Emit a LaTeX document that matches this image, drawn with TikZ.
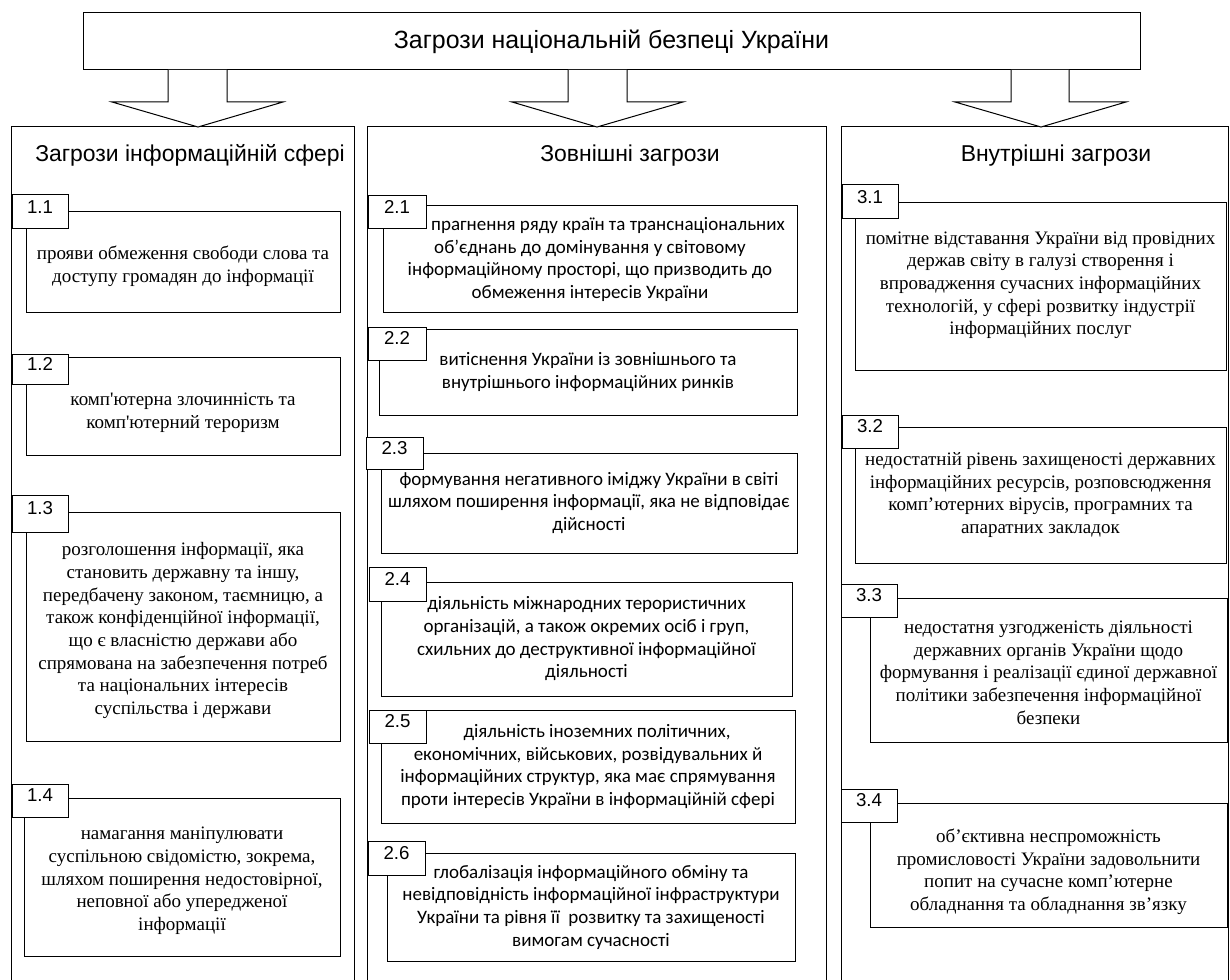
\documentclass[tikz,border=0pt]{standalone}
\usepackage{fontspec}
\setmainfont{Liberation Serif}[Ligatures=TeXOff]
\newfontfamily\arialf{Liberation Sans}[Ligatures=TeXOff]
\newfontfamily\calibf{Carlito}[Ligatures=TeXOff]
\usetikzlibrary{fit}

\begin{document}
\begin{tikzpicture}[x=0.75pt,y=-0.75pt,
  frame/.style={draw=black,line width=0.75pt,inner sep=0pt,fill=white},
  colframe/.style={inner sep=0pt},
  colline/.style={draw=black,line width=0.75pt},
  blockarrow/.style={draw=black,line width=0.75pt,fill=white,line join=miter},
  title/.style={font=\arialf\fontsize{18.7}{22}\selectfont,inner sep=0pt},
  heading/.style={font=\arialf\fontsize{17.2}{20}\selectfont,inner sep=0pt,anchor=base},
  numtext/.style={font=\arialf\fontsize{14}{16}\selectfont,inner sep=0pt},
  serifbody/.style={font=\fontsize{14.25}{17}\selectfont,align=center,inner sep=0pt},
  sansbody/.style={font=\calibf\fontsize{14.25}{17}\selectfont,align=center,inner sep=0pt}]
\useasboundingbox (0,0) rectangle (1230,980);

% top box
\node[frame,fit={(83,13) (1140,70)}] (top) {};
\node[title] (toptxt) at (top.center) {Загрози національній безпеці України};

% three columns (open at the bottom)
\node[colframe,fit={(12,127) (354,982)}] (c1) {};
\node[colframe,fit={(368,127) (826,982)}] (c2) {};
\node[colframe,fit={(842,127) (1228,982)}] (c3) {};
\foreach \c in {c1,c2,c3}
  \draw[colline] (\c.south west) -- (\c.north west) -- (\c.north east) -- (\c.south east);

% block arrows from the top box down to each column
\coordinate (t1) at (198,127);
\coordinate (t2) at (597,127);
\coordinate (t3) at (1041,127);
\draw[blockarrow] (168,70) -- (168,102) -- (112,102) -- (t1) -- (283,102) -- (227,102) -- (227,70);
\draw[blockarrow] (568,70) -- (568,102) -- (512,102) -- (t2) -- (683,102) -- (627,102) -- (627,70);
\draw[blockarrow] (1011,70) -- (1011,102) -- (955,102) -- (t3) -- (1126,102) -- (1069,102) -- (1069,70);

% column headings
\node[heading] (h1) at (190,162) {Загрози інформаційній сфері};
\node[heading] (h2) at (630,162) {Зовнішні загрози};
\node[heading] (h3) at (1056,162) {Внутрішні загрози};

% ---- column 1 ----
\node[frame,fit={(26,212) (340,313)}] (b11) {};
\node[frame,fit={(12,195) (68,229)}] (l11) {};
\node[serifbody] (x11) at ([yshift=-3pt]b11.center) {прояви обмеження свободи слова та\\доступу громадян до інформації};

\node[frame,fit={(26,357) (340,455)}] (b12) {};
\node[frame,fit={(12,354) (68,384)}] (l12) {};
\node[serifbody] (x12) at ([yshift=-5pt]b12.center) {комп'ютерна злочинність та\\комп'ютерний тероризм};

\node[frame,fit={(26,512) (340,741)}] (b13) {};
\node[frame,fit={(12,495) (68,532)}] (l13) {};
\node[serifbody] (x13) at ([yshift=-3pt]b13.center) {розголошення інформації, яка\\становить державну та іншу,\\передбачену законом, таємницю, а\\також конфіденційної інформації,\\що є власністю держави або\\спрямована на забезпечення потреб\\та національних інтересів\\суспільства і держави};

\node[frame,fit={(24,798) (340,956)}] (b14) {};
\node[frame,fit={(12,784) (68,817)}] (l14) {};
\node[serifbody] (x14) at ([yshift=-3pt]b14.center) {намагання маніпулювати\\суспільною свідомістю, зокрема,\\шляхом поширення недостовірної,\\неповної або упередженої\\інформації};

% ---- column 2 ----
\node[frame,fit={(383,206) (797,313)}] (b21) {};
\node[frame,fit={(368,196) (426,229)}] (l21) {};
\node[sansbody] (x21) at (b21.center) {\hspace*{27pt}прагнення ряду країн та транснаціональних\\об’єднань до домінування у світовому\\інформаційному просторі, що призводить до\\обмеження інтересів України};

\node[frame,fit={(379,329) (797,415)}] (b22) {};
\node[frame,fit={(368,327) (426,360)}] (l22) {};
\node[sansbody] (x22) at (b22.center) {витіснення України із зовнішнього та\\внутрішнього інформаційних ринків};

\node[frame,fit={(381,453) (797,553)}] (b23) {};
\node[frame,fit={(366,437) (423,469)}] (l23) {};
\node[sansbody] (x23) at (b23.center) {формування негативного іміджу України в світі\\шляхом поширення інформації, яка не відповідає\\дійсності};

\node[frame,fit={(381,582) (792,696)}] (b24) {};
\node[frame,fit={(369,567) (426,601)}] (l24) {};
\node[sansbody] (x24) at (b24.center) {діяльність міжнародних терористичних\\організацій, а також окремих осіб і груп,\\схильних до деструктивної інформаційної\\діяльності};

\node[frame,fit={(381,710) (795,823)}] (b25) {};
\node[frame,fit={(369,710) (426,743)}] (l25) {};
\node[sansbody] (x25) at (b25.center) {\hspace*{13.5pt}діяльність іноземних політичних,\\економічних, військових, розвідувальних й\\інформаційних структур, яка має спрямування\\проти інтересів України в інформаційній сфері};

\node[frame,fit={(387,853) (795,961)}] (b26) {};
\node[frame,fit={(368,841) (425,875)}] (l26) {};
\node[sansbody] (x26) at (b26.center) {глобалізація інформаційного обміну та\\невідповідність інформаційної інфраструктури\\України та рівня її\ \ розвитку та захищеності\\вимогам сучасності};

% ---- column 3 ----
\node[frame,fit={(855,203) (1226,370)}] (b31) {};
\node[frame,fit={(842,185) (898,219)}] (l31) {};
\node[serifbody] (x31) at ([yshift=1pt]b31.center) {помітне відставання України від провідних\\держав світу в галузі створення і\\впровадження сучасних інформаційних\\технологій, у сфері розвитку індустрії\\інформаційних послуг};

\node[frame,fit={(855,427) (1226,563)}] (b32) {};
\node[frame,fit={(842,415) (898,448)}] (l32) {};
\node[serifbody] (x32) at (b32.center) {недостатній рівень захищеності державних\\інформаційних ресурсів, розповсюдження\\комп’ютерних вірусів, програмних та\\апаратних закладок};

\node[frame,fit={(870,598) (1227,742)}] (b33) {};
\node[frame,fit={(841,584) (897,617)}] (l33) {};
\node[serifbody] (x33) at ([yshift=-2pt]b33.center) {недостатня узгодженість діяльності\\державних органів України щодо\\формування і реалізації єдиної державної\\політики забезпечення інформаційної\\безпеки};

\node[frame,fit={(870,803) (1227,927)}] (b34) {};
\node[frame,fit={(841,789) (897,822)}] (l34) {};
\node[serifbody] (x34) at ([yshift=-5pt]b34.center) {об’єктивна неспроможність\\промисловості України задовольнити\\попит на сучасне комп’ютерне\\обладнання та обладнання зв’язку};

% item numbers
\foreach \n/\t in {l11/1.1,l12/1.2,l13/1.3,l14/1.4,l21/2.1,l22/2.2,l23/2.3,l24/2.4,l25/2.5,l26/2.6,l31/3.1,l32/3.2,l33/3.3,l34/3.4}
  \node[numtext] (n\n) at ([yshift=4pt]\n.center) {\t};
\end{tikzpicture}
\end{document}
